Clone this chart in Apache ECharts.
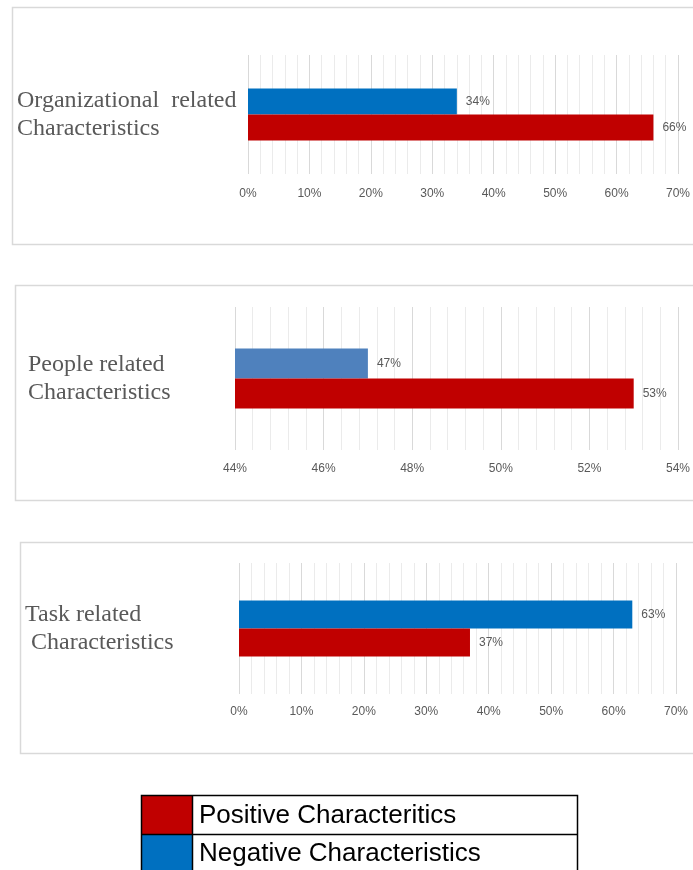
<!DOCTYPE html>
<html>
<head>
<meta charset="utf-8">
<script src="https://cdn.jsdelivr.net/npm/echarts@6/dist/echarts.min.js"></script>
<style>
html,body{margin:0;padding:0;background:#fff;}
#c{width:693px;height:870px;}
</style>
</head>
<body>
<div id="c"></div>
<script>
// ---- data ----
const categories = ['Organizational  related\nCharacteristics', 'People related\nCharacteristics', 'Task related\n Characteristics'];
const negativeValues = [34, 47, 63];
const positiveValues = [66, 53, 37];
const axisMin = [0, 44, 0];
const axisMax = [70, 54, 70];
const axisStep = [10, 2, 10];
const legendNames = ['Positive Characteritics', 'Negative Characteristics'];

// ---- layout / style ----
const RED = '#c00000';
const negColors = ['#0070c0', '#4f81bd', '#0070c0'];
const grids = [
  {left: 248, top: 55, width: 434, height: 119, labelLeft: 17, barW: 26, xMargin: 14},
  {left: 235, top: 307, width: 447, height: 143, labelLeft: 28, barW: 30, xMargin: 13},
  {left: 239, top: 563, width: 437, height: 131, labelLeft: 25, barW: 28, xMargin: 12}
];
const boxes = [
  {x: 12, y: 7, h: 237},
  {x: 15, y: 285, h: 215},
  {x: 20, y: 542, h: 211}
];

const chart = echarts.init(document.getElementById('c'));
const option = {
  animation: false,
  backgroundColor: '#fff',
  grid: grids.map(g => ({left: g.left, top: g.top, width: g.width, height: g.height})),
  xAxis: grids.map((g, i) => ({
    type: 'value', gridIndex: i, min: axisMin[i], max: axisMax[i], interval: axisStep[i],
    axisLine: {show: false}, axisTick: {show: false},
    minorTick: {show: false, splitNumber: 5},
    splitLine: {show: true, lineStyle: {color: '#d9d9d9', width: 1}},
    minorSplitLine: {show: true, lineStyle: {color: '#ebebeb', width: 1}},
    axisLabel: {formatter: '{value}%', color: '#595959', fontSize: 12, fontFamily: 'Liberation Sans', margin: g.xMargin}
  })),
  yAxis: grids.map((g, i) => ({
    type: 'category', gridIndex: i, data: [categories[i]],
    axisLine: {show: false}, axisTick: {show: false},
    axisLabel: {align: 'left', margin: g.left - g.labelLeft, color: '#595959', fontSize: 24,
      lineHeight: 28, fontFamily: 'Liberation Serif'}
  })),
  series: []
};
grids.forEach((g, i) => {
  option.series.push({
    name: legendNames[1], type: 'bar', xAxisIndex: i, yAxisIndex: i,
    data: [negativeValues[i]], barWidth: g.barW, barGap: '0%',
    itemStyle: {color: negColors[i]},
    label: {show: true, position: 'right', distance: 9, formatter: '{c}%', color: '#595959', fontSize: 12, fontFamily: 'Liberation Sans'}
  });
  option.series.push({
    name: legendNames[0], type: 'bar', xAxisIndex: i, yAxisIndex: i,
    data: [positiveValues[i]], barWidth: g.barW, barGap: '0%',
    itemStyle: {color: RED},
    label: {show: true, position: 'right', distance: 9, formatter: '{c}%', color: '#595959', fontSize: 12, fontFamily: 'Liberation Sans'}
  });
});
const graphics = boxes.map(b => ({
  type: 'rect', silent: true, z: -1,
  shape: {x: b.x + 0.5, y: b.y + 0.5, width: 720, height: b.h},
  style: {fill: null, stroke: '#d9d9d9', lineWidth: 1.5}
}));
// legend table
const LX = 141.5, LY = 795.5, LW = 436, R1 = 39, R2 = 45, CW = 51;
graphics.push(
  {type: 'rect', shape: {x: LX, y: LY, width: CW, height: R1}, style: {fill: RED}},
  {type: 'rect', shape: {x: LX, y: LY + R1, width: CW, height: R2}, style: {fill: negColors[0]}},
  {type: 'rect', shape: {x: LX, y: LY, width: LW, height: R1 + R2}, style: {fill: null, stroke: '#000', lineWidth: 1.5}},
  {type: 'line', shape: {x1: LX, y1: LY + R1, x2: LX + LW, y2: LY + R1}, style: {stroke: '#000', lineWidth: 1.5}},
  {type: 'line', shape: {x1: LX + CW, y1: LY, x2: LX + CW, y2: LY + R1 + R2}, style: {stroke: '#000', lineWidth: 1.5}},
  {type: 'text', x: 199, y: 816, style: {text: legendNames[0], fill: '#000', fontSize: 26, fontFamily: 'Liberation Sans', verticalAlign: 'middle'}},
  {type: 'text', x: 199, y: 854, style: {text: legendNames[1], fill: '#000', fontSize: 26, fontFamily: 'Liberation Sans', verticalAlign: 'middle'}}
);
option.graphic = graphics;
chart.setOption(option);
</script>
</body>
</html>
